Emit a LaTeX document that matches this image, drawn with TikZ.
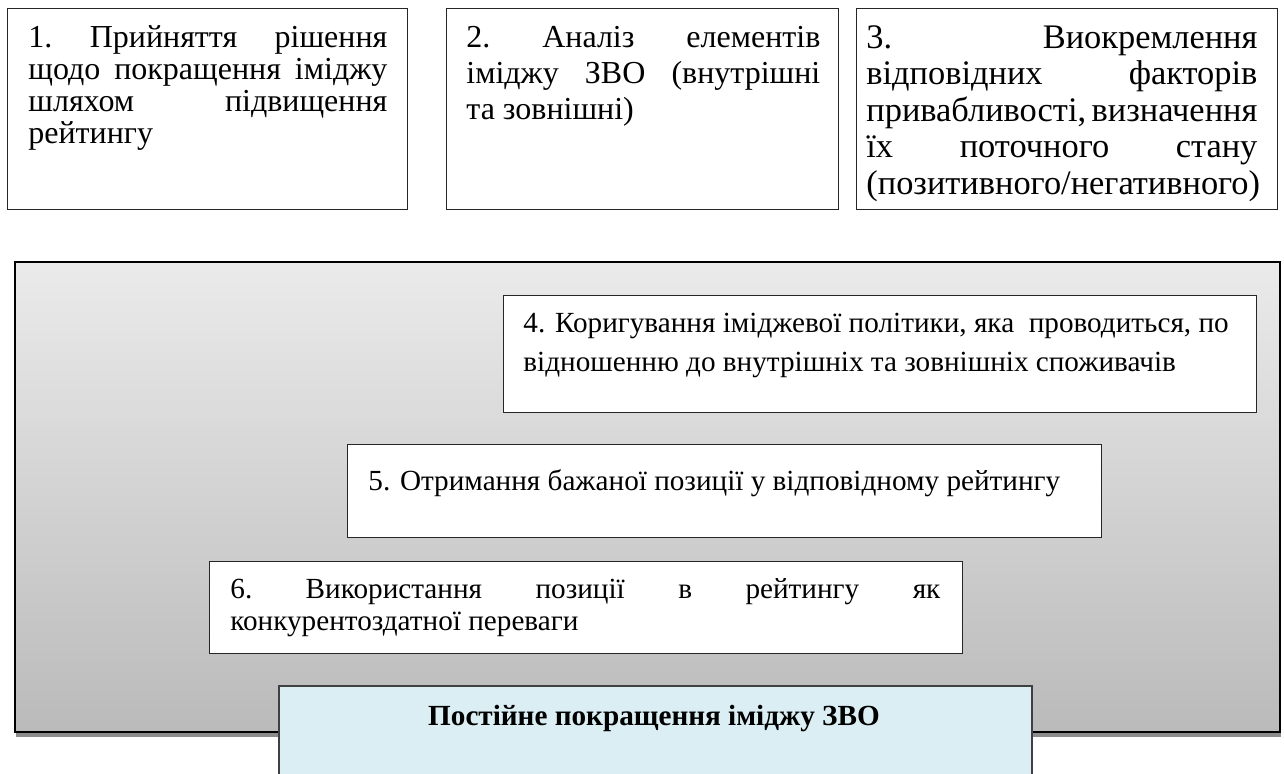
\documentclass[tikz,border=0pt]{standalone}
\usepackage{fontspec}
\setmainfont{Liberation Serif}
\usetikzlibrary{positioning,shadows}
\definecolor{framegray}{RGB}{64,64,64}
\definecolor{paleblue}{RGB}{218,238,243}

\begin{document}
\begin{tikzpicture}[x=1pt, y=-1pt,
  box/.style={draw=black!85, line width=0.6pt, fill=white, anchor=north west, inner sep=0pt},
  bigbox/.style={box, draw=black, line width=1.1pt, top color=black!8, bottom color=black!27,
                 drop shadow={shadow xshift=0.6pt, shadow yshift=-2.2pt, fill=black!45, opacity=1}},
  goalbox/.style={box, draw=framegray, line width=1pt, fill=paleblue},
  txt/.style={anchor=base west, inner sep=0pt, align=flush left},
  bigtxt/.style={txt, font=\fontsize{16}{16}\selectfont},
  smalltxt/.style={txt, font=\fontsize{14.6}{19.5}\selectfont}
]
  \useasboundingbox (0,0) rectangle (642,386.5);
  \clip (0,0) rectangle (642,386.5);

  % top row
  \node[box, minimum width=200pt, minimum height=100.5pt] (b1) at (3.5,4) {};
  \node[box, minimum width=196pt, minimum height=100.5pt] (b2) at (223,4) {};
  \node[box, minimum width=210.5pt, minimum height=100.5pt] (b3) at (428,4) {};
  \node[bigtxt, text width=179.5pt] (t1) at (14,23.5)
    {1.\hfill Прийняття\hfill рішення\\ щодо\hfill покращення\hfill іміджу\\ шляхом\hfill підвищення\\ рейтингу};
  \node[bigtxt, text width=177pt, font=\fontsize{16}{18}\selectfont] (t2) at (233,23.5)
    {2.\hfill Аналіз\hfill елементів\\ іміджу\hfill ЗВО\hfill (внутрішні\\ та зовнішні)};
  \node[bigtxt, text width=195.5pt, font=\fontsize{17.2}{18.3}\selectfont] (t3) at (433,24)
    {3.\hfill Виокремлення\\ відповідних\hfill факторів\\ привабливості,\hfill визначення\\ їх\hfill поточного\hfill стану\\ (позитивного/негативного)};

  % grey panel
  \node[bigbox, minimum width=632.5pt, minimum height=235pt] (panel) at (7,130.5) {};
  \node[box, minimum width=376.5pt, minimum height=58.5pt] (b4) at (251.5,147.5) {};
  \node[box, minimum width=377pt, minimum height=46.5pt] (b5) at (173.5,222) {};
  \node[box, minimum width=376.5pt, minimum height=46pt] (b6) at (104.5,280.5) {};
  \node[smalltxt, text width=366pt] (t4) at (261.5,166)
    {4. Коригування іміджевої політики, яка\ \ проводиться, по\\ відношенню до внутрішніх та зовнішніх споживачів};
  \node[smalltxt, text width=366pt] (t5) at (184,245)
    {5. Отримання бажаної позиції у відповідному рейтингу};
  \node[smalltxt, text width=355pt, font=\fontsize{14.6}{16.3}\selectfont] (t6) at (115,299)
    {6.\hfill Використання\hfill позиції\hfill в\hfill рейтингу\hfill як\\ конкурентоздатної переваги};

  % goal
  \node[goalbox, minimum width=376.5pt, minimum height=60pt] (goal) at (139,342.5) {};
  \node[anchor=base, inner sep=0pt, font=\fontsize{14.6}{17}\selectfont\bfseries] (tg) at (327,362.5)
    {Постійне покращення іміджу ЗВО};
\end{tikzpicture}
\end{document}
